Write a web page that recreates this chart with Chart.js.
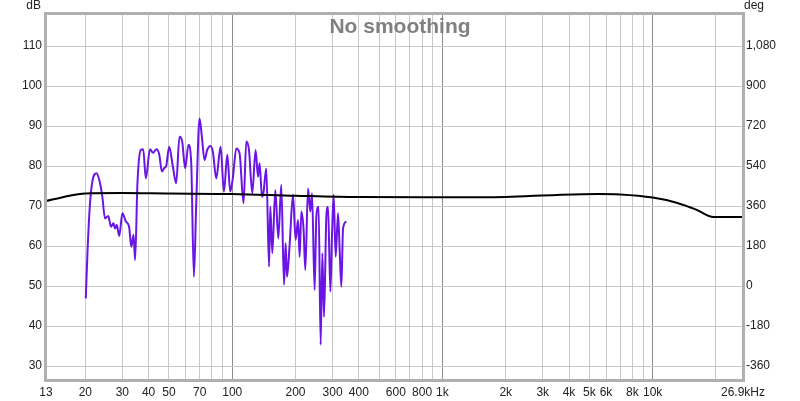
<!DOCTYPE html>
<html>
<head>
<meta charset="utf-8">
<script src="https://cdn.jsdelivr.net/npm/chart.js@4.4.1/dist/chart.umd.min.js"></script>
<style>
  html, body { margin: 0; padding: 0; background: #fff; }
  #wrap { width: 800px; height: 401px; }
</style>
</head>
<body>
<div id="wrap"><canvas id="rta" width="800" height="401"></canvas></div>
<script>
// SPL trace (Hz / dB)
const freqHz = [
  20.1, 20.5, 21.0, 21.6, 22.6, 23.4, 24.1, 24.8, 25.7, 26.5,
  27.2, 27.7, 28.2, 29.0, 30.0, 31.2, 32.3, 33.1, 33.9, 34.5,
  35.4, 36.7, 37.7, 38.8, 40.6, 42.0, 43.6, 44.9, 46.3, 47.5,
  48.5, 50.1, 52.2, 54.1, 56.1, 57.8, 59.7, 61.9, 63.8, 65.7,
  67.4, 69.9, 71.7, 73.8, 76.0, 78.8, 80.9, 83.9, 88.0, 91.3,
  94.7, 97.8, 100.8, 104.5, 108.3, 113.2, 116.6, 120.1, 124.5, 129.1,
  132.6, 134.9, 138.5, 140.9, 145.2, 149.6, 151.7, 155.1, 160.2, 165.6,
  171.1, 176.3, 179.4, 182.2, 187.5, 194.5, 200.2, 205.5, 209.2, 213.1,
  218.5, 222.6, 229.3, 235.2, 239.6, 246.5, 251.2, 257.6, 263.3, 268.3,
  273.3, 280.3, 285.6, 292.9, 298.4, 303.7, 310.4, 318.6, 324.3, 330.4,
  336.6, 349.0
];
const splDb = [
  46.9, 59.0, 69.8, 76.1, 78.2, 76.1, 72.3, 66.9, 67.5, 64.8,
  65.7, 64.4, 65.3, 62.5, 68.2, 66.1, 64.8, 59.8, 62.8, 56.5,
  75.7, 84.0, 84.2, 76.9, 84.2, 83.3, 84.2, 83.0, 78.6, 79.5,
  80.0, 84.8, 79.8, 75.7, 87.3, 86.1, 79.4, 85.3, 80.7, 52.3,
  70.7, 91.9, 87.3, 81.5, 84.0, 85.0, 83.5, 76.9, 84.8, 73.6,
  82.8, 73.6, 77.3, 84.4, 83.2, 70.7, 86.1, 84.0, 73.2, 84.0,
  77.3, 80.7, 72.3, 73.5, 79.4, 54.8, 69.8, 58.2, 74.0, 61.9,
  75.3, 50.3, 60.7, 52.3, 60.3, 72.8, 61.5, 66.5, 57.3, 68.6,
  64.0, 54.0, 74.4, 68.6, 73.2, 49.0, 67.3, 69.8, 35.3, 58.2,
  42.3, 67.3, 69.8, 48.6, 63.2, 72.8, 57.3, 68.2, 59.0, 49.8,
  64.4, 66.1
];

// phase trace (Hz / deg)
const phaseFreq = [13, 16, 20, 30, 50, 100, 200, 400, 1000, 2000, 3500, 5500, 7000, 10000, 13000, 16000, 19500, 26900];
const phaseDeg  = [382, 402, 416, 418, 416, 414, 406, 400, 399, 401, 410, 414, 412, 398, 375, 345, 310, 310];

// axes
const xLabelValues = [13, 20, 30, 40, 50, 70, 100, 200, 300, 400, 600, 800, 1000, 2000, 3000, 4000, 5000, 6000, 8000, 10000, 26900];
const xLabelText   = ['13', '20', '30', '40', '50', '70', '100', '200', '300', '400', '600', '800', '1k', '2k', '3k', '4k', '5k', '6k', '8k', '10k', '26.9kHz'];
const dbTicks  = [30, 40, 50, 60, 70, 80, 90, 100, 110];
const degTicks = [-360, -180, 0, 180, 360, 540, 720, 900, 1080];

const gridFreqs = [13];
for (let d = 10; d <= 10000; d *= 10) {
  for (let m = 1; m <= 9; m++) {
    const f = d * m;
    if (f > 13 && f < 26900) gridFreqs.push(f);
  }
}
gridFreqs.push(20000, 26900);

const tickFont = { family: 'Liberation Sans, Arial, sans-serif', size: 12 };

const frame = {
  id: 'frame',
  beforeDatasetsDraw(chart) {
    const { ctx, chartArea: a } = chart;
    ctx.save();
    ctx.font = 'bold 21px "Liberation Sans", Arial, sans-serif';
    ctx.fillStyle = '#808080';
    ctx.textAlign = 'center';
    ctx.textBaseline = 'alphabetic';
    ctx.fillText('No smoothing', 400, 33);
    ctx.restore();
  },
  afterDraw(chart) {
    const { ctx, chartArea: a } = chart;
    ctx.save();
    ctx.strokeStyle = '#b0b0b0';
    ctx.lineWidth = 3;
    ctx.strokeRect(a.left - 0.5, a.top - 0.5, a.right - a.left + 1, a.bottom - a.top + 1);
    ctx.font = '12px "Liberation Sans", Arial, sans-serif';
    ctx.fillStyle = '#222';
    ctx.textBaseline = 'middle';
    ctx.textAlign = 'right';
    ctx.fillText('dB', 41, 6);
    ctx.textAlign = 'left';
    ctx.fillText('deg', 744, 6);
    ctx.restore();
  }
};

new Chart(document.getElementById('rta'), {
  type: 'line',
  data: {
    datasets: [{
      label: 'Phase',
      data: phaseFreq.map((f, i) => ({ x: f, y: phaseDeg[i] })),
      yAxisID: 'y2',
      borderColor: '#000000',
      borderWidth: 2,
      pointRadius: 0,
      cubicInterpolationMode: 'monotone',
      fill: false
    }, {
      label: 'SPL',
      data: freqHz.map((f, i) => ({ x: f, y: splDb[i] })),
      yAxisID: 'y',
      borderColor: '#6a14e6',
      borderWidth: 2,
      pointRadius: 0,
      cubicInterpolationMode: 'monotone',
      fill: false
    }]
  },
  options: {
    responsive: false,
    animation: false,
    layout: { padding: { top: 14, left: 0, right: 0, bottom: 0 } },
    plugins: { legend: { display: false }, tooltip: { enabled: false }, title: { display: false } },
    scales: {
      x: {
        type: 'logarithmic',
        min: 13,
        max: 26900,
        afterBuildTicks: (axis) => { axis.ticks = gridFreqs.map(v => ({ value: v })); },
        afterFit: (axis) => { axis.height = 21; },
        border: { display: false },
        grid: {
          drawTicks: false,
          color: (c) => {
            const v = c.tick ? c.tick.value : 0;
            if (v === 13 || v === 26900) return 'rgba(0,0,0,0)';
            if (v === 100 || v === 1000 || v === 10000) return '#8c8c8c';
            return '#c8c8c8';
          }
        },
        ticks: {
          autoSkip: false,
          maxRotation: 0,
          padding: 5,
          color: '#222',
          font: tickFont,
          callback: (v) => {
            const i = xLabelValues.indexOf(v);
            return i >= 0 ? xLabelText[i] : '';
          }
        }
      },
      y: {
        type: 'linear',
        position: 'left',
        min: 26.5,
        max: 118,
        afterBuildTicks: (axis) => { axis.ticks = dbTicks.map(v => ({ value: v })); },
        afterFit: (axis) => { axis.width = 46; },
        border: { display: false },
        grid: { drawTicks: false, color: '#c8c8c8' },
        ticks: { padding: 4, color: '#222', font: tickFont }
      },
      y2: {
        type: 'linear',
        position: 'right',
        min: -423,
        max: 1224,
        afterBuildTicks: (axis) => { axis.ticks = degTicks.map(v => ({ value: v })); },
        afterFit: (axis) => { axis.width = 57; },
        border: { display: false },
        grid: { display: false, drawTicks: false },
        ticks: {
          padding: 3,
          color: '#222',
          font: tickFont,
          callback: (v) => v.toLocaleString('en-US')
        }
      }
    }
  },
  plugins: [frame]
});
</script>
</body>
</html>
